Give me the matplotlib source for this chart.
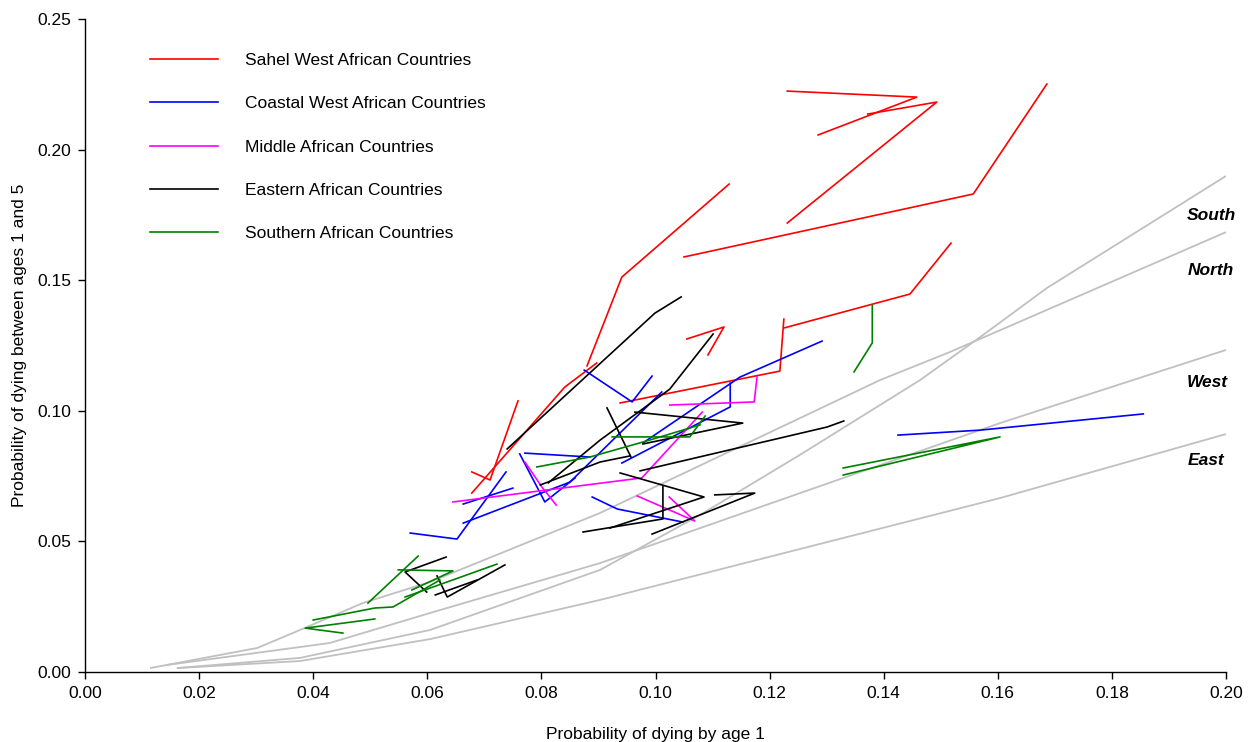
import matplotlib
matplotlib.use("Agg")
import matplotlib.pyplot as plt
import numpy as np

plt.rcParams['font.family'] = ['Liberation Sans', 'DejaVu Sans']

# ---- model life table curves (1q0 -> 4q1) ----
north_x = [0.0114, 0.0302, 0.0377, 0.0487, 0.0605, 0.0903, 0.1394, 0.1516, 0.2000]
north_y = [0.0015, 0.0092, 0.0161, 0.0264, 0.0345, 0.0609, 0.1118, 0.1225, 0.1684]
west_x = [0.0144, 0.0429, 0.0605, 0.0903, 0.1604, 0.2000]
west_y = [0.0027, 0.0111, 0.0226, 0.0417, 0.0953, 0.1233]
south_x = [0.0161, 0.0377, 0.0605, 0.0903, 0.1078, 0.1253, 0.1464, 0.1574, 0.1686, 0.2000]
south_y = [0.0015, 0.0054, 0.0161, 0.0391, 0.0601, 0.0831, 0.1118, 0.1290, 0.1470, 0.1899]
east_x = [0.0161, 0.0377, 0.0605, 0.0903, 0.1604, 0.2000]
east_y = [0.0015, 0.0042, 0.0126, 0.0276, 0.0666, 0.0911]

model_names = ["South", "North", "West", "East"]
model_label_x = [0.1932, 0.1932, 0.1932, 0.1932]
model_label_y = [0.1746, 0.1539, 0.1110, 0.0808]

# ---- country trajectories ----
sahel_x = [
    [0.0678, 0.0841, 0.0897],
    [0.0880, 0.0941, 0.1129],
    [0.0678, 0.0710, 0.0759],
    [0.1055, 0.1120, 0.1092],
    [0.0938, 0.1218, 0.1225],
    [0.1225, 0.1446, 0.1518],
    [0.1050, 0.1557, 0.1686],
    [0.1231, 0.1458, 0.1285],
    [0.1372, 0.1493, 0.1231],
]
sahel_y = [
    [0.0685, 0.1091, 0.1183],
    [0.1172, 0.1512, 0.1868],
    [0.0766, 0.0735, 0.1038],
    [0.1275, 0.1321, 0.1214],
    [0.1030, 0.1152, 0.1351],
    [0.1317, 0.1447, 0.1642],
    [0.1589, 0.1830, 0.2251],
    [0.2224, 0.2201, 0.2056],
    [0.2136, 0.2182, 0.1719],
]

coastal_x = [
    [0.0570, 0.0652, 0.0738],
    [0.0663, 0.0750],
    [0.0663, 0.0850, 0.1011],
    [0.0875, 0.0959, 0.0994],
    [0.0978, 0.1148, 0.1292],
    [0.0941, 0.1131, 0.1131],
    [0.0889, 0.0933, 0.1048],
    [0.1425, 0.1569, 0.1855],
    [0.0762, 0.0806, 0.0859],
    [0.0771, 0.0885],
]
coastal_y = [
    [0.0532, 0.0509, 0.0766],
    [0.0643, 0.0704],
    [0.0570, 0.0727, 0.1072],
    [0.1156, 0.1034, 0.1133],
    [0.0877, 0.1129, 0.1267],
    [0.0800, 0.1015, 0.1106],
    [0.0670, 0.0624, 0.0574],
    [0.0907, 0.0926, 0.0988],
    [0.0835, 0.0651, 0.0743],
    [0.0838, 0.0823],
]

middle_x = [
    [0.0645, 0.0976, 0.1082],
    [0.0771, 0.0801, 0.0826],
    [0.1025, 0.1173, 0.1178],
    [0.0968, 0.1069, 0.1024],
]
middle_y = [
    [0.0651, 0.0743, 0.0995],
    [0.0804, 0.0708, 0.0639],
    [0.1022, 0.1034, 0.1129],
    [0.0674, 0.0578, 0.0670],
]

eastern_x = [
    [0.0740, 0.0999, 0.1045],
    [0.0812, 0.0903, 0.1025, 0.1101],
    [0.0915, 0.0957],
    [0.0964, 0.1153, 0.0978],
    [0.0973, 0.1301, 0.1330],
    [0.0938, 0.1085, 0.0920],
    [0.0873, 0.1013, 0.1013],
    [0.0994, 0.1174, 0.1104],
    [0.0798, 0.0903, 0.0955],
    [0.0633, 0.0561, 0.0599],
    [0.0617, 0.0635, 0.0736],
    [0.0614, 0.0687],
]
eastern_y = [
    [0.0854, 0.1374, 0.1436],
    [0.0724, 0.0888, 0.1083, 0.1294],
    [0.1011, 0.0823],
    [0.0995, 0.0953, 0.0873],
    [0.0770, 0.0938, 0.0961],
    [0.0762, 0.0670, 0.0551],
    [0.0536, 0.0586, 0.0712],
    [0.0528, 0.0685, 0.0678],
    [0.0716, 0.0804, 0.0827],
    [0.0440, 0.0383, 0.0306],
    [0.0368, 0.0287, 0.0410],
    [0.0295, 0.0352],
]

southern_x = [
    [0.0452, 0.0386, 0.0508],
    [0.0400, 0.0508, 0.0540, 0.0622],
    [0.0496, 0.0584],
    [0.0549, 0.0645, 0.0573],
    [0.0561, 0.0722],
    [0.0792, 0.0885, 0.0990, 0.1078],
    [0.0924, 0.1060, 0.1087],
    [0.1348, 0.1380, 0.1380],
    [0.1329, 0.1604, 0.1329],
]
southern_y = [
    [0.0149, 0.0168, 0.0203],
    [0.0199, 0.0245, 0.0249, 0.0352],
    [0.0264, 0.0444],
    [0.0391, 0.0387, 0.0314],
    [0.0287, 0.0413],
    [0.0785, 0.0823, 0.0888, 0.0946],
    [0.0900, 0.0900, 0.0980],
    [0.1149, 0.1260, 0.1405],
    [0.0781, 0.0900, 0.0754],
]

region_labels = ["Sahel West African Countries", "Coastal West African Countries",
                 "Middle African Countries", "Eastern African Countries",
                 "Southern African Countries"]
region_colors = ["#ff0000", "#0000ff", "#ff00ff", "#000000", "#008000"]
region_xs = [sahel_x, coastal_x, middle_x, eastern_x, southern_x]
region_ys = [sahel_y, coastal_y, middle_y, eastern_y, southern_y]

x_ticks = [0.00, 0.02, 0.04, 0.06, 0.08, 0.10, 0.12, 0.14, 0.16, 0.18, 0.20]
y_ticks = [0.00, 0.05, 0.10, 0.15, 0.20, 0.25]

FS = 12.5
W, H = 1256, 742
fig = plt.figure(figsize=(W / 100, H / 100), dpi=100)
ax = fig.add_axes([85 / W, 70 / H, 1141 / W, 653 / H])

for cx, cy in [(north_x, north_y), (west_x, west_y), (south_x, south_y), (east_x, east_y)]:
    ax.plot(cx, cy, color="#c0c0c0", lw=1.3, zorder=1, solid_capstyle="butt")

for name, lx, ly in zip(model_names, model_label_x, model_label_y):
    ax.text(lx, ly, name, fontsize=FS, fontweight="bold", fontstyle="italic",
            ha="left", va="center", clip_on=False)

handles = []
for lab, col, xs, ys in zip(region_labels, region_colors, region_xs, region_ys):
    for i, (px, py) in enumerate(zip(xs, ys)):
        ln, = ax.plot(px, py, color=col, lw=1.2, zorder=3,
                      label=lab if i == 0 else None)
        if i == 0:
            handles.append(ln)

ax.set_xlim(0, 0.2)
ax.set_ylim(0, 0.25)
ax.set_xticks(x_ticks)
ax.set_xticklabels([f"{v:.2f}" for v in x_ticks])
ax.set_yticks(y_ticks)
ax.set_yticklabels([f"{v:.2f}" for v in y_ticks])
for s in ["top", "right"]:
    ax.spines[s].set_visible(False)
for s in ["left", "bottom"]:
    ax.spines[s].set_linewidth(1.0)
ax.tick_params(direction="out", length=5, width=1, labelsize=FS, pad=5)

ax.set_xlabel("Probability of dying by age 1", fontsize=FS, labelpad=19)
ax.set_ylabel("Probability of dying between ages 1 and 5", fontsize=FS, labelpad=7)

ax.legend(handles=handles, loc="upper left", bbox_to_anchor=((150 - 85) / 1141, (672 - 53) / 653),
          frameon=False, fontsize=FS, handlelength=3.9, handletextpad=1.55,
          labelspacing=1.62, borderpad=0, borderaxespad=0)

fig.savefig("out.png", dpi=100)
